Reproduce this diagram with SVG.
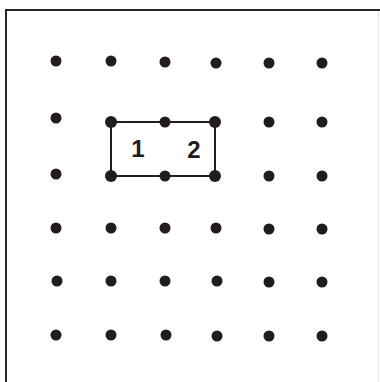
<svg xmlns="http://www.w3.org/2000/svg" width="380" height="382" viewBox="0 0 380 382">
<style>
.dot{fill:#231c1c}
.frame{stroke:#2a2424;stroke-width:2;fill:none}
.rect{stroke:#231c1c;stroke-width:2;fill:none}
.lbl{font-family:"Liberation Sans",Arial,sans-serif;font-weight:bold;font-size:24px;fill:#231c1c;text-anchor:middle}
</style>
<rect width="380" height="382" fill="#ffffff"/>
<path class="frame" d="M6,382 V10 H380"/>
<line x1="378.5" y1="12" x2="378.5" y2="382" stroke="#e6e6e6" stroke-width="1"/>
<g id="connectors">
<rect class="rect" x="111" y="122" width="104" height="54"/>
</g>
<g id="dots">
<g id="row1"><circle class="dot" cx="56" cy="61" r="5.5"/><circle class="dot" cx="111" cy="61" r="5.5"/><circle class="dot" cx="165" cy="62" r="5.5"/><circle class="dot" cx="216" cy="63" r="5.5"/><circle class="dot" cx="269" cy="63" r="5.5"/><circle class="dot" cx="322" cy="63" r="5.5"/></g>
<g id="row2"><circle class="dot" cx="56" cy="118" r="5.5"/><circle class="dot" cx="111" cy="122" r="6"/><circle class="dot" cx="165" cy="122" r="5.5"/><circle class="dot" cx="215" cy="122" r="6"/><circle class="dot" cx="269" cy="122" r="5.5"/><circle class="dot" cx="322" cy="122" r="5.5"/></g>
<g id="row3"><circle class="dot" cx="56" cy="174" r="5.5"/><circle class="dot" cx="111" cy="176" r="6"/><circle class="dot" cx="165" cy="176" r="5.5"/><circle class="dot" cx="215" cy="176" r="6"/><circle class="dot" cx="269" cy="176" r="5.5"/><circle class="dot" cx="322" cy="176" r="5.5"/></g>
<g id="row4"><circle class="dot" cx="56" cy="228" r="5.5"/><circle class="dot" cx="111" cy="228" r="5.5"/><circle class="dot" cx="165" cy="228" r="5.5"/><circle class="dot" cx="216" cy="228" r="5.5"/><circle class="dot" cx="269" cy="229" r="5.5"/><circle class="dot" cx="322" cy="229" r="5.5"/></g>
<g id="row5"><circle class="dot" cx="57" cy="281" r="5.5"/><circle class="dot" cx="111" cy="281" r="5.5"/><circle class="dot" cx="165" cy="281" r="5.5"/><circle class="dot" cx="217" cy="281" r="5.5"/><circle class="dot" cx="269" cy="282" r="5.5"/><circle class="dot" cx="322" cy="282" r="5.5"/></g>
<g id="row6"><circle class="dot" cx="56" cy="335" r="5.5"/><circle class="dot" cx="111" cy="335" r="5.5"/><circle class="dot" cx="166" cy="335" r="5.5"/><circle class="dot" cx="217" cy="336" r="5.5"/><circle class="dot" cx="269" cy="336" r="5.5"/><circle class="dot" cx="322" cy="336" r="5.5"/></g>
</g>
<g id="labels">
<text class="lbl" x="138" y="157">1</text>
<text class="lbl" x="194" y="158">2</text>
</g>
</svg>
